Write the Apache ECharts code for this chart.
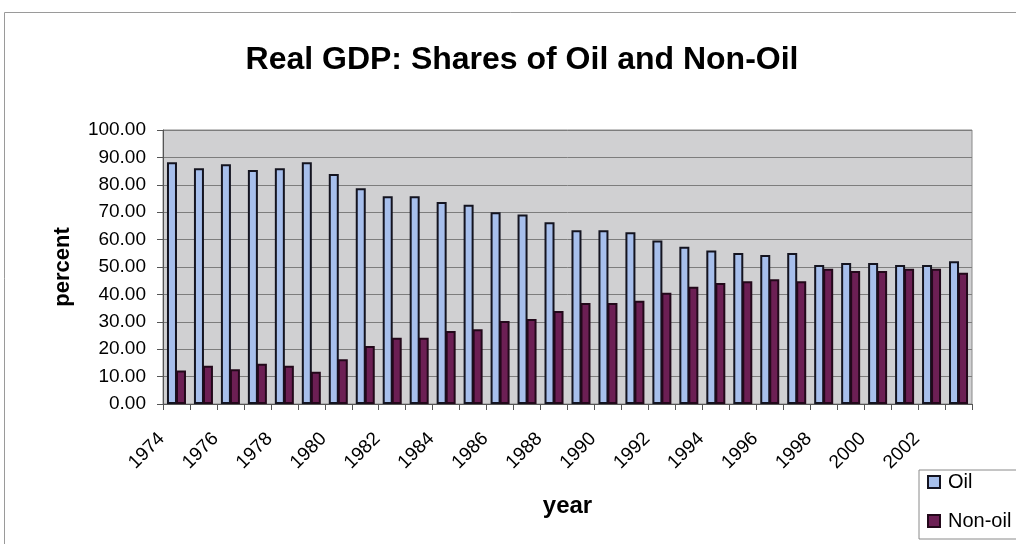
<!DOCTYPE html>
<html>
<head>
<meta charset="utf-8">
<script src="https://cdn.jsdelivr.net/npm/echarts@6/dist/echarts.min.js"></script>
<style>
  html, body { margin: 0; padding: 0; background: #ffffff; }
  #chart { width: 1016px; height: 544px; }
</style>
</head>
<body>
<div id="chart"></div>
<script>
// Years covered by the series
const years = ['1974','1975','1976','1977','1978','1979','1980','1981','1982','1983',
  '1984','1985','1986','1987','1988','1989','1990','1991','1992','1993',
  '1994','1995','1996','1997','1998','1999','2000','2001','2002','2003'];

// Share of real GDP from the oil sector (percent)
const oilShare = [88.2, 86.0, 87.5, 85.4, 86.0, 88.2, 83.9, 78.7, 75.8, 75.8,
  73.7, 72.7, 70.0, 69.2, 66.3, 63.4, 63.4, 62.7, 59.7, 57.4,
  56.0, 55.1, 54.4, 55.1, 50.7, 51.5, 51.5, 50.7, 50.7, 52.1];

// Share of real GDP from the non-oil sector (percent)
const nonOilShare = [12.2, 14.0, 12.7, 14.7, 14.0, 11.8, 16.3, 21.2, 24.2, 24.2,
  26.6, 27.3, 30.3, 31.0, 33.9, 36.9, 36.9, 37.7, 40.6, 42.8,
  44.2, 44.8, 45.5, 44.8, 49.4, 48.5, 48.5, 49.4, 49.4, 47.9];

const seriesNames = ['Oil', 'Non-oil'];

const font = '"Liberation Sans", Arial, sans-serif';

const chart = echarts.init(document.getElementById('chart'), null, { renderer: 'canvas' });

chart.setOption({
  animation: false,
  backgroundColor: '#ffffff',
  textStyle: { fontFamily: font },
  title: {
    text: 'Real GDP: Shares of Oil and Non-Oil',
    left: 517,
    textAlign: 'center',
    top: 39,
    textStyle: { fontFamily: font, fontSize: 32, fontWeight: 'bold', color: '#000' }
  },
  graphic: [{
    type: 'rect',
    shape: { x: 4.5, y: 12.5, width: 1100, height: 600 },
    style: { fill: 'none', stroke: '#9a9a9a', lineWidth: 1 },
    z: -10
  }],
  legend: {
    orient: 'vertical',
    left: 919,
    top: 470,
    data: seriesNames,
    icon: 'rect',
    itemWidth: 12,
    itemHeight: 12,
    itemGap: 19,
    padding: [2, 30, 8, 8],
    borderColor: '#8a8a8a',
    borderWidth: 1,
    backgroundColor: '#ffffff',
    textStyle: { fontFamily: font, fontSize: 20, color: '#000', padding: [0, 0, 0, 3] }
  },
  grid: {
    left: 163, right: 44, top: 130, bottom: 140,
    show: true,
    backgroundColor: '#d0d0d2',
    borderColor: '#8a8a8a',
    borderWidth: 1
  },
  xAxis: {
    type: 'category',
    data: years,
    name: 'year',
    nameLocation: 'middle',
    nameGap: 90,
    nameTextStyle: { fontFamily: font, fontSize: 24, fontWeight: 'bold', color: '#000' },
    axisLine: { lineStyle: { color: '#555', width: 1 } },
    axisTick: { show: true, interval: 0, length: 6, lineStyle: { color: '#555' } },
    axisLabel: {
      interval: 1,
      rotate: 45,
      margin: 17,
      padding: [0, 21, 0, 0],
      fontFamily: font,
      fontSize: 19,
      color: '#000'
    }
  },
  yAxis: {
    type: 'value',
    min: 0,
    max: 100,
    interval: 10,
    name: 'percent',
    nameLocation: 'middle',
    nameGap: 89,
    nameTextStyle: { fontFamily: font, fontSize: 22, fontWeight: 'bold', color: '#000' },
    axisLine: { show: true, lineStyle: { color: '#555', width: 1 } },
    axisTick: { show: true, length: 6, lineStyle: { color: '#555' } },
    axisLabel: {
      margin: 17,
      fontFamily: font,
      fontSize: 19,
      color: '#000',
      formatter: v => v.toFixed(2)
    },
    splitLine: { show: true, lineStyle: { color: '#7d7d7d', width: 1 } }
  },
  series: [
    {
      name: seriesNames[0],
      type: 'bar',
      data: oilShare,
      barWidth: 10,
      barGap: '-10%',
      itemStyle: { color: '#a7bfec', borderColor: '#141420', borderWidth: 2 }
    },
    {
      name: seriesNames[1],
      type: 'bar',
      data: nonOilShare,
      barWidth: 10,
      itemStyle: { color: '#6c1f54', borderColor: '#22081a', borderWidth: 2 }
    }
  ]
});
</script>
</body>
</html>
